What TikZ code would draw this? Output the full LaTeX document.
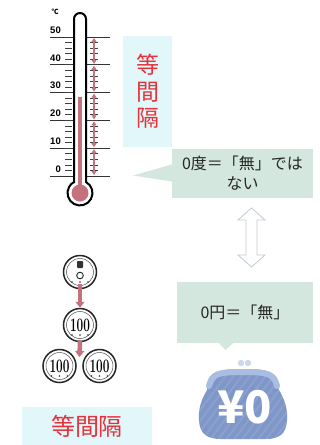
\documentclass[tikz,border=0pt]{standalone}
\usepackage{fontspec}
\newfontfamily\jp{Noto Sans CJK JP}
\newfontfamily\scalefont{Liberation Sans}
\usetikzlibrary{arrows.meta}

\definecolor{sayfill}{HTML}{D4E7DF}
\definecolor{gapfill}{HTML}{E2F7F9}
\definecolor{gapred}{HTML}{E5323C}
\definecolor{mercury}{HTML}{C4737C}
\definecolor{swapgray}{HTML}{C3CBD4}
\definecolor{purseblue}{HTML}{7E96C8}
\definecolor{rimblue}{HTML}{A9BDE2}
\definecolor{claspblue}{HTML}{CCD6EC}

\newcommand\hundred{\scalebox{0.62}[1]{\fontsize{19}{19}\selectfont\bfseries 100}}

\begin{document}
\begin{tikzpicture}[x=1pt,y=-1pt,
	scaleline/.style={line width=0.9pt, black!80},
	tickline/.style={line width=0.7pt, black!75},
	scalenum/.style={font=\scalefont\bfseries\fontsize{9.5}{9.5}\selectfont, inner sep=0pt},
	thermo/.style={line width=2pt, black},
	gaparrow/.style={line width=1.5pt, mercury, {Triangle[width=5pt,length=4pt]}-{Triangle[width=5pt,length=4pt]}},
	gapbox/.style={fill=gapfill, text=gapred, inner sep=0pt, align=center},
	saybox/.style={fill=sayfill, text=black!85, inner sep=0pt, align=center, font=\jp\fontsize{16}{20}\selectfont},
	swapline/.style={draw=swapgray, fill=white, line width=0.8pt, line join=miter},
	coin/.style={circle, draw=black!85, line width=1.5pt, fill=white, minimum size=33pt, inner sep=0pt,
		path picture={
			\draw[black!70, line width=0.5pt] (path picture bounding box.center) circle[radius=13.5];
			\foreach \dx in {-8,0,8}
				\fill[black!80] ([xshift=\dx pt, yshift=-10pt]path picture bounding box.center) circle[radius=0.9];
		}},
	coinarrow/.style={line width=4.5pt, mercury, -{Triangle[width=9pt,length=6pt]}}]

\useasboundingbox (0,0) rectangle (320,445);

% scale of the thermometer
\foreach \t/\lab in {0/0,1/10,2/20,3/30,4/40,5/50}{
	\draw[scaleline] (50,176-27.8*\t) -- (110,176-27.8*\t);
	\node[scalenum, anchor=east] (deg\t) at (61,169-27.8*\t) {\lab};
}
\foreach \d in {2,4,...,48}
	\draw[tickline] (65,176-2.78*\d) -- (72,176-2.78*\d) (90,176-2.78*\d) -- (98,176-2.78*\d);
\node[scalenum] (unit) at (55,12) {\jp\fontsize{7}{7}\selectfont ℃};

% equal steps
\foreach \t in {0,...,4}
	\draw[gaparrow] (94,176-27.8*\t-1) -- (94,176-27.8*\t-26.8);

% glass tube and bulb
\draw[thermo, fill=white] (74,182) -- (74,19) arc[start angle=180, end angle=360, radius=6]
	-- (86,182) arc[start angle=-61.3, end angle=241.3, radius=12.5] -- cycle;
\fill[mercury] (77.8,97) rectangle (82.2,186);
\fill[mercury] (80,193) circle[radius=8.5];

\node[gapbox, minimum width=49pt, minimum height=111pt, font=\jp\fontsize{23}{26.5}\selectfont] (gapA) at (147.5,91.5) {等\\間\\隔};

% speech boxes
\node[saybox, minimum width=141pt, minimum height=49pt] (zerodeg) at (242.5,173.5) {0度＝「無」では\\ない};
\coordinate (zerodegtip) at (133,175.5);
\fill[sayfill] ([yshift=9pt]zerodeg.west) -- (zerodegtip) -- ([yshift=-8pt]zerodeg.west) -- cycle;

\node[saybox, minimum width=136pt, minimum height=61pt] (zeroyen) at (245,312.5) {0円＝「無」};
\coordinate (zeroyentip) at (225.5,350);
\fill[sayfill] ([xshift=-26pt]zeroyen.south) -- (zeroyentip) -- ([xshift=-12pt]zeroyen.south) -- cycle;

% hollow two-way arrow between the boxes
\coordinate (swap) at (251.5,237.5);
\begin{scope}[shift={(swap)}]
	\path[swapline] (0,-29.5) -- (13.5,-17.5) -- (5.5,-17.5) -- (5.5,17.5) -- (13.5,17.5) -- (0,29.5)
		-- (-13.5,17.5) -- (-5.5,17.5) -- (-5.5,-17.5) -- (-13.5,-17.5) -- cycle;
\end{scope}

% coins
\node[coin] (fifty) at (80,272) {};
\draw[black!85, line width=0.9pt] ([yshift=-3.5pt]fifty.center) circle[radius=3.3];
\fill[black!80, rounded corners=0.8pt] (77,261) rectangle (83,268);
\node[coin] (hundredA) at (80,325) {\hundred};
\node[coin] (hundredB) at (59.5,366) {\hundred};
\node[coin] (hundredC) at (99.5,366) {\hundred};
\coordinate (split) at (79.5,357);
\draw[coinarrow] ([yshift=5pt]fifty.south) -- (hundredA.north);
\draw[coinarrow] ([yshift=2pt]hundredA.south) -- (split);

\node[gapbox, minimum width=130pt, minimum height=38pt, font=\jp\fontsize{24}{24}\selectfont] (gapB) at (87,426) {等間隔};

% purse
\fill[claspblue] (241,363) circle[radius=3.2] (248,363) circle[radius=3.2];
\begin{scope}
	\clip (207,390) .. controls (210,372) and (215,369) .. (243,369) .. controls (271,369) and (276,372) .. (279,390)
		.. controls (285,400) and (288,410) .. (287,421) .. controls (286,434) and (279,439) .. (266,439)
		-- (221,439) .. controls (207,439) and (200,434) .. (199,421) .. controls (198,410) and (201,400) .. (207,390) -- cycle;
	\fill[purseblue] (190,360) rectangle (295,445);
	\foreach \s in {150,158,...,290}
		\draw[white, opacity=0.1, line width=2pt] (\s,445) -- (\s+60,365);
\end{scope}
\draw[rimblue, line width=6pt, line cap=round] (209,386) .. controls (212,374) and (217,372) .. (243,372)
	.. controls (269,372) and (274,374) .. (277,386);
\node[text=white, font=\jp\bfseries\fontsize{45}{45}\selectfont, inner sep=0pt, anchor=base] (yen) at (244.5,423) {¥0};

\end{tikzpicture}
\end{document}
